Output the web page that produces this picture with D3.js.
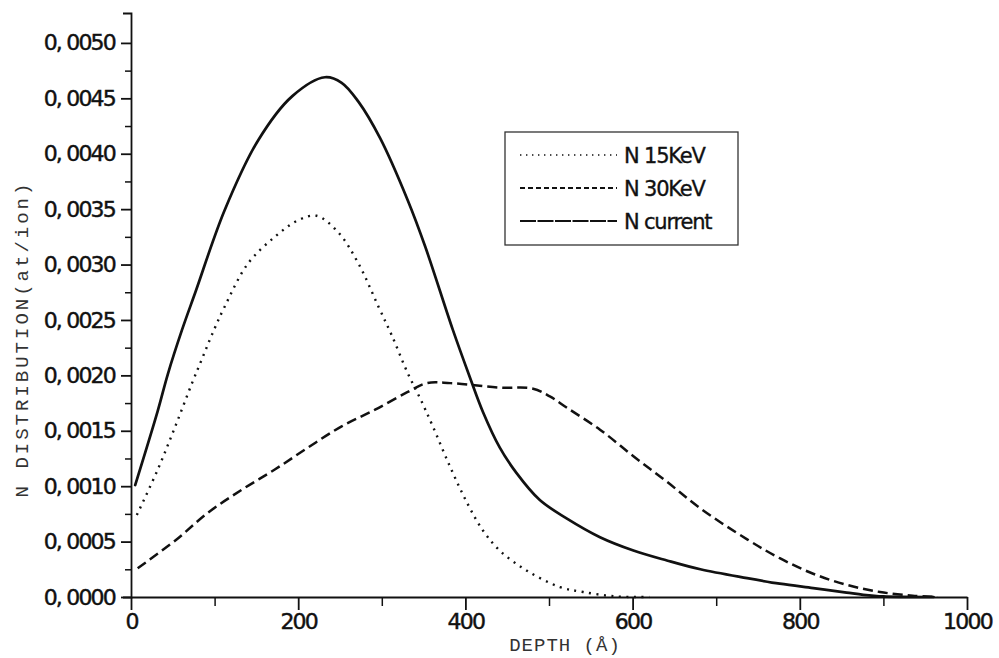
<!DOCTYPE html>
<html>
<head>
<meta charset="utf-8">
<script src="https://cdn.jsdelivr.net/npm/d3@7"></script>
<style>
  html, body { margin: 0; padding: 0; background: #fff; }
  svg { display: block; }
</style>
</head>
<body>
<svg id="chart" width="999" height="658"></svg>
<script>
// ---------- data (depth in Å, N distribution in at/ion) ----------
const seriesNames = ["N 15KeV", "N 30KeV", "N current"];

const depth15 = [7, 32, 53, 73, 85, 97, 112, 140, 172, 200, 222, 248, 272, 296, 312, 331, 346, 361, 382, 402, 421, 441, 473, 513, 541, 580, 620];
const n15 = [0.00074, 0.00115, 0.00154, 0.00193, 0.00215, 0.00237, 0.00262, 0.00301, 0.00325, 0.00340, 0.00344, 0.00329, 0.00301, 0.00262, 0.00236, 0.00202, 0.00179, 0.00154, 0.00117, 0.00085, 0.00060, 0.00042, 0.00024, 0.00009, 0.000045, 0.000005, 0];

const depth30 = [8, 53, 92, 133, 172, 212, 252, 292, 331, 354, 382, 441, 481, 501, 521, 561, 601, 641, 681, 737, 776, 816, 856, 896, 935, 965];
const n30 = [0.00026, 0.00051, 0.00076, 0.00097, 0.00115, 0.00135, 0.00154, 0.00169, 0.00185, 0.00193, 0.00193, 0.00189, 0.00188, 0.00181, 0.00171, 0.00151, 0.00127, 0.00104, 0.00080, 0.00052, 0.00035, 0.00021, 0.00011, 0.000045, 0.000012, 0];

const depthCur = [5, 32, 44, 61, 77, 112, 152, 193, 232, 252, 272, 298, 331, 352, 385, 405, 421, 441, 461, 489, 521, 561, 601, 641, 681, 737, 776, 816, 856, 876, 900, 960];
const nCur = [0.00101, 0.00168, 0.00201, 0.00241, 0.00275, 0.00349, 0.00412, 0.00452, 0.00469, 0.00464, 0.00447, 0.00414, 0.00358, 0.00316, 0.00241, 0.00199, 0.00167, 0.00135, 0.00112, 0.000875, 0.00071, 0.00054, 0.00042, 0.00033, 0.00025, 0.00017, 0.00012, 0.00008, 0.00004, 0.00002, 0.000005, 0];

const xTicks = [0, 200, 400, 600, 800, 1000];
const xMinorTicks = [100, 300, 500, 700, 900];
const yTicks = [0, 0.0005, 0.0010, 0.0015, 0.0020, 0.0025, 0.0030, 0.0035, 0.0040, 0.0045, 0.0050];
const yMinorTicks = [0.00025, 0.00075, 0.00125, 0.00175, 0.00225, 0.00275, 0.00325, 0.00375, 0.00425, 0.00475];
const xTitle = "DEPTH (Å)";
const yTitle = "N DISTRIBUTION(at/ion)";

// ---------- chart ----------
const svg = d3.select("#chart");
const x = d3.scaleLinear().domain([0, 1000]).range([131, 967]);
const y = d3.scaleLinear().domain([0, 0.00527]).range([597, 13]);

const tickFont = "'DejaVu Sans', Verdana, sans-serif";
const fmtY = d => d3.format(".4f")(d).replace(".", ", ");

function styleTickText(g) {
  g.selectAll("text")
    .attr("fill", "#111")
    .attr("stroke", "#111")
    .attr("stroke-width", 0.45)
    .style("font-family", tickFont)
    .style("font-size", "22px")
    .style("letter-spacing", "-1.8px");
}

// minor ticks
svg.append("g")
  .attr("transform", `translate(${x(0)},0)`)
  .call(d3.axisLeft(y).tickValues(yMinorTicks).tickSize(6).tickSizeOuter(0).tickFormat(""))
  .call(g => g.select(".domain").remove())
  .call(g => g.selectAll("line").attr("stroke", "#111").attr("stroke-width", 1.5));
svg.append("g")
  .attr("transform", `translate(0,${y(0)})`)
  .call(d3.axisBottom(x).tickValues(xMinorTicks).tickSize(9).tickSizeOuter(0).tickFormat(""))
  .call(g => g.select(".domain").remove())
  .call(g => g.selectAll("line").attr("stroke", "#111").attr("stroke-width", 1.5));

// y axis
svg.append("g")
  .attr("transform", `translate(${x(0)},0)`)
  .call(d3.axisLeft(y).tickValues(yTicks).tickSize(10).tickSizeOuter(8).tickPadding(6).tickFormat(fmtY))
  .call(g => g.select(".domain").attr("stroke", "#111").attr("stroke-width", 1.8))
  .call(g => g.selectAll("line").attr("stroke", "#111").attr("stroke-width", 1.8))
  .call(styleTickText);

// x axis
svg.append("g")
  .attr("transform", `translate(0,${y(0)})`)
  .call(d3.axisBottom(x).tickValues(xTicks).tickSize(13).tickSizeOuter(0).tickPadding(3).tickFormat(d3.format("d")))
  .call(g => g.select(".domain").attr("stroke", "#111").attr("stroke-width", 1.8))
  .call(g => g.selectAll("line").attr("stroke", "#111").attr("stroke-width", 1.8))
  .call(styleTickText);

// axis titles
svg.append("text")
  .attr("x", 565).attr("y", 651)
  .attr("text-anchor", "middle")
  .attr("fill", "#333")
  .style("font-family", "'Liberation Mono', 'DejaVu Sans Mono', monospace")
  .style("font-size", "19px")
  .style("letter-spacing", "1px")
  .text(xTitle);

svg.append("text")
  .attr("transform", "translate(28,339) rotate(-90)")
  .attr("text-anchor", "middle")
  .attr("fill", "#333")
  .style("font-family", "'Liberation Mono', 'DejaVu Sans Mono', monospace")
  .style("font-size", "19px")
  .style("letter-spacing", "3px")
  .text(yTitle);

// lines
const styles = [
  { dash: "2,5.5", width: 2.4, cap: "butt" },
  { dash: "10,5", width: 2.5, cap: "butt" },
  { dash: null, width: 2.7, cap: "round" }
];
const seriesData = [
  depth15.map((d, i) => [d, n15[i]]),
  depth30.map((d, i) => [d, n30[i]]),
  depthCur.map((d, i) => [d, nCur[i]])
];
const line = d3.line().x(d => x(d[0])).y(d => y(d[1])).curve(d3.curveCatmullRom.alpha(0.5));

svg.append("g").selectAll("path")
  .data(seriesData)
  .join("path")
  .attr("d", line)
  .attr("fill", "none")
  .attr("stroke", "#111")
  .attr("stroke-width", (d, i) => styles[i].width)
  .attr("stroke-dasharray", (d, i) => styles[i].dash)
  .attr("stroke-linecap", (d, i) => styles[i].cap);

// legend
const legend = svg.append("g");
legend.append("rect")
  .attr("x", 505).attr("y", 132).attr("width", 233).attr("height", 113)
  .attr("fill", "#fff").attr("stroke", "#333").attr("stroke-width", 1.3);
const rowY = [155, 188, 221];
seriesNames.forEach((name, i) => {
  legend.append("line")
    .attr("x1", 520).attr("x2", 617).attr("y1", rowY[i]).attr("y2", rowY[i])
    .attr("stroke", "#111")
    .attr("stroke-width", i === 0 ? 1.4 : 1.8)
    .attr("stroke-dasharray", i === 0 ? "1.4,4.6" : (i === 1 ? "5,3" : "16,1.5"));
  legend.append("text")
    .attr("x", 624).attr("y", rowY[i] + 8)
    .attr("fill", "#111")
    .attr("stroke", "#111")
    .attr("stroke-width", 0.35)
    .style("font-family", tickFont)
    .style("font-size", "21px")
    .style("letter-spacing", "-1.2px")
    .text(name);
});
</script>
</body>
</html>
